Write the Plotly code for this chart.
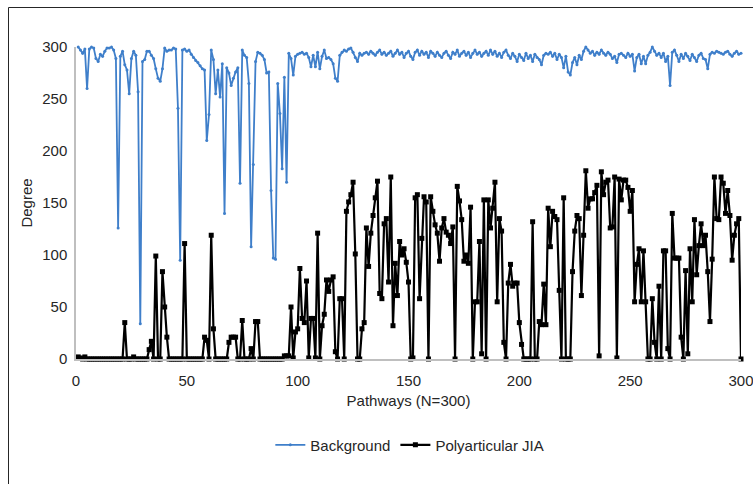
import plotly.graph_objects as go

pathways = list(range(1, 301))

background = [
    300, 297, 294, 298, 260, 298, 300, 299, 289, 286, 293, 291, 296, 299, 299, 300, 297, 289, 126, 291,
    296, 283, 278, 255, 289, 296, 292, 257, 34, 286, 288, 296, 296, 292, 289, 279, 270, 267, 279, 299,
    296, 297, 297, 299, 298, 241, 95, 297, 298, 296, 297, 293, 290, 287, 285, 282, 279, 278, 210, 235,
    297, 288, 255, 278, 252, 284, 140, 280, 275, 263, 270, 276, 280, 169, 297, 292, 290, 265, 108, 187,
    286, 295, 294, 292, 288, 275, 276, 162, 97, 96, 265, 236, 183, 271, 170, 294, 289, 273, 291, 293,
    294, 295, 293, 294, 290, 281, 292, 281, 295, 279, 291, 297, 289, 290, 288, 284, 270, 267, 292, 295,
    297, 296, 298, 299, 295, 290, 286, 294, 292, 294, 295, 293, 296, 294, 292, 295, 297, 293, 295, 292,
    294, 296, 291, 294, 297, 293, 295, 290, 294, 296, 291, 288, 295, 297, 292, 296, 293, 295, 290, 296,
    294, 291, 295, 292, 290, 294, 296, 292, 289, 295, 293, 297, 291, 294, 296, 292, 295, 290, 294, 297,
    293, 295, 291, 294, 296, 292, 297, 293, 296, 291, 294, 290, 295, 297, 292, 289, 294, 291, 286, 293,
    290, 287, 294, 289, 292, 286, 293, 290, 288, 283, 292, 294, 293, 295, 291, 294, 288, 293, 290, 280,
    291, 276, 273, 285, 290, 283, 292, 288, 296, 300, 297, 294, 296, 292, 295, 293, 297, 294, 292, 295,
    293, 289, 291, 285, 293, 294, 292, 290, 294, 291, 293, 277, 290, 293, 284, 291, 284, 292, 295, 300,
    296, 292, 294, 290, 294, 286, 291, 263, 295, 297, 292, 286, 293, 289, 294, 291, 287, 293, 290, 286,
    292, 294, 289, 288, 279, 293, 295, 294, 296, 295, 294, 293, 295, 296, 293, 291, 294, 296, 293, 294,
]

polyarticular_jia = [
    2, 1, 0, 2, 0, 0, 0, 0, 0, 0, 0, 0, 0, 0, 0, 0, 0, 0, 0, 0,
    0, 35, 0, 0, 0, 2, 0, 0, 0, 0, 0, 0, 9, 17, 0, 99, 0, 0, 84, 50,
    21, 0, 0, 0, 0, 0, 0, 0, 111, 0, 0, 0, 0, 0, 0, 0, 0, 21, 18, 0,
    119, 29, 0, 0, 0, 0, 0, 0, 16, 21, 21, 21, 0, 0, 37, 0, 0, 0, 10, 0,
    36, 36, 0, 0, 0, 0, 0, 0, 0, 0, 0, 0, 0, 3, 3, 3, 50, 1, 26, 29,
    87, 39, 35, 75, 1, 39, 39, 1, 121, 0, 32, 43, 76, 65, 76, 79, 7, 0, 58, 58,
    0, 142, 151, 158, 170, 101, 0, 0, 29, 35, 126, 89, 121, 138, 155, 171, 63, 58, 130, 135,
    74, 175, 32, 92, 61, 113, 100, 106, 93, 74, 0, 1, 155, 158, 58, 116, 156, 151, 0, 156,
    142, 129, 121, 94, 126, 135, 122, 119, 111, 127, 0, 166, 152, 134, 94, 100, 92, 146, 0, 55,
    55, 113, 5, 153, 0, 153, 126, 145, 170, 55, 135, 123, 16, 0, 73, 91, 70, 73, 73, 35,
    14, 0, 0, 0, 0, 132, 0, 0, 36, 33, 72, 33, 145, 108, 142, 137, 134, 66, 0, 155,
    0, 0, 0, 84, 123, 138, 135, 61, 119, 181, 145, 154, 154, 160, 167, 3, 180, 158, 170, 172,
    126, 127, 175, 1, 173, 153, 172, 172, 165, 142, 162, 55, 91, 106, 55, 104, 55, 0, 0, 58,
    16, 0, 70, 0, 104, 104, 10, 0, 140, 97, 97, 97, 21, 0, 85, 5, 106, 55, 134, 81,
    109, 130, 109, 119, 84, 36, 96, 175, 135, 134, 175, 169, 140, 162, 138, 95, 119, 130, 135, 0,
]

x_ticks = [0, 50, 100, 150, 200, 250, 300]
y_ticks = [0, 50, 100, 150, 200, 250, 300]

FONT = "Liberation Sans, Arial, sans-serif"
TXT = "#262626"

fig = go.Figure()
fig.add_trace(go.Scatter(
    x=pathways, y=background, name="Background", mode="lines+markers",
    line=dict(color="#3F7FCA", width=1.8),
    marker=dict(symbol="circle", size=3, color="#3F7FCA"),
    cliponaxis=False,
))
fig.add_trace(go.Scatter(
    x=pathways, y=polyarticular_jia, name="Polyarticular JIA", mode="lines+markers",
    line=dict(color="#000000", width=2.2),
    marker=dict(symbol="square", size=5, color="#000000"),
    cliponaxis=False,
))

fig.update_layout(
    width=753, height=484,
    margin=dict(l=76, r=12, t=47, b=125),
    paper_bgcolor="white", plot_bgcolor="white",
    font=dict(family=FONT, size=15, color=TXT),
    showlegend=True,
    legend=dict(orientation="h", x=0.502, y=-0.276, xanchor="center", yanchor="middle",
                font=dict(family=FONT, size=15, color=TXT), itemwidth=30),
    xaxis=dict(range=[0, 300], tickvals=x_ticks, ticktext=[str(v) for v in x_ticks],
               showgrid=False, zeroline=False, automargin=False,
               ticklabeloverflow="allow",
               showline=True, linecolor="#BFBFBF", linewidth=1.5,
               ticks="outside", ticklen=7, tickcolor="rgba(0,0,0,0)",
               title=dict(text="Pathways (N=300)", standoff=8,
                          font=dict(family=FONT, size=15, color=TXT))),
    yaxis=dict(range=[0, 300], tickvals=y_ticks, showgrid=False, zeroline=False,
               showline=True, linecolor="#BFBFBF", linewidth=1.5,
               ticks="outside", ticklen=4, tickcolor="rgba(0,0,0,0)",
               title=dict(text="Degree", standoff=6,
                          font=dict(family=FONT, size=15, color=TXT))),
    shapes=[dict(type="rect", xref="paper", yref="paper",
                 x0=-0.1015, x1=1.2, y0=-0.5, y1=1.1266,
                 line=dict(color="#262626", width=1), fillcolor="rgba(0,0,0,0)")],
)

fig.write_html(
    "out.html",
    config={"displayModeBar": False},
    post_script="document.body.style.margin='0';document.body.style.overflow='hidden';",
)
